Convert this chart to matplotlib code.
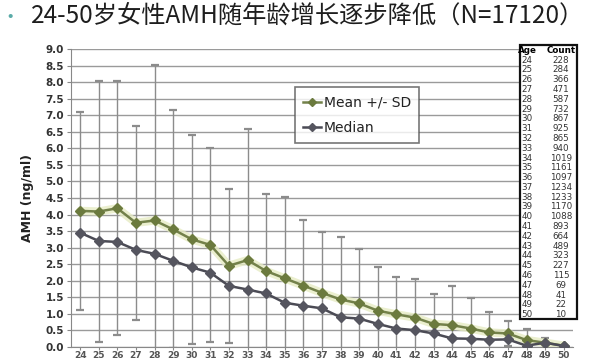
import matplotlib
matplotlib.use("Agg")
import matplotlib.pyplot as plt
from matplotlib.patches import Rectangle
import numpy as np

plt.rcParams['font.family'] = ['Noto Sans CJK SC', 'DejaVu Sans']

# values
ages = list(range(24, 51))
mean = [4.11, 4.09, 4.19, 3.75, 3.82, 3.55, 3.25, 3.08, 2.45, 2.62, 2.29, 2.07, 1.85,
        1.63, 1.43, 1.31, 1.09, 0.98, 0.88, 0.69, 0.65, 0.55, 0.43, 0.40, 0.20, 0.12, 0.03]
sd = [3.00, 3.95, 3.85, 2.94, 4.72, 3.60, 3.16, 2.94, 2.33, 3.96, 2.32, 2.47, 1.99,
      1.85, 1.88, 1.65, 1.33, 1.14, 1.16, 0.90, 1.19, 0.92, 0.63, 0.38, 0.33, 0.15, 0.03]
median = [3.45, 3.20, 3.17, 2.93, 2.81, 2.60, 2.40, 2.24, 1.84, 1.73, 1.61, 1.33, 1.24,
          1.16, 0.89, 0.85, 0.69, 0.55, 0.50, 0.40, 0.25, 0.24, 0.21, 0.22, 0.03, 0.12, 0.02]
counts = [228, 284, 366, 471, 587, 732, 867, 925, 865, 940, 1019, 1161, 1097, 1234,
          1233, 1170, 1088, 893, 664, 489, 323, 227, 115, 69, 41, 22, 10]

title = "24-50岁女性AMH随年龄增长逐步降低（N=17120）"

fig = plt.figure(figsize=(6, 3.6), dpi=100)
ax = fig.add_axes([0.118, 0.037, 0.837, 0.826])

# horizontal grid
ax.set_yticks(np.arange(0, 9.01, 0.5))
ax.yaxis.grid(True, color='#9a9a9a', lw=1.0)
ax.set_axisbelow(True)

# error bars (mean +/- sd)
ax.errorbar(ages, mean, yerr=sd, fmt='none', ecolor='#8c8c8c', elinewidth=1.0,
            capsize=3, capthick=1.6, zorder=2)

# faint glow under the mean line
ax.plot(ages, mean, color='#e6ecc4', lw=6, alpha=0.8, zorder=2.5,
        solid_capstyle='round')
ax.plot(ages, mean, color='#73814a', lw=1.8, marker='D', ms=5.5,
        mfc='#6b7a3e', mec='#6b7a3e', label='Mean +/- SD', zorder=3)
ax.plot(ages, median, color='#4b4b55', lw=1.8, marker='D', ms=5.5,
        mfc='#55555f', mec='#55555f', label='Median', zorder=3)

ax.set_xlim(23.5, 50.5)
ax.set_ylim(0, 9)
ax.set_xticks(ages)
ax.set_xticklabels([str(a) for a in ages], fontsize=6.5, fontweight='bold',
                   color='#555555', family='DejaVu Sans')
ax.set_yticklabels(['%.1f' % v for v in np.arange(0, 9.01, 0.5)], fontsize=7.5,
                   fontweight='bold', color='#333333', family='DejaVu Sans')
ax.tick_params(axis='y', length=3, color='#888888', pad=2)
ax.tick_params(axis='x', length=2, color='#888888', pad=1)

for s in ['top', 'right']:
    ax.spines[s].set_visible(False)
ax.spines['left'].set_color('#888888')
ax.spines['bottom'].set_color('#888888')

ax.set_ylabel('AMH (ng/ml)', fontsize=9, fontweight='bold', color='#222222',
              family='DejaVu Sans', labelpad=8)

leg = ax.legend(loc='upper left', bbox_to_anchor=(0.432, 0.895), frameon=True,
                fancybox=False, edgecolor='#555555',
                handlelength=1.3, handletextpad=0.2, labelspacing=0.8,
                borderpad=0.6, markerscale=0.8,
                prop={'family': 'DejaVu Sans', 'size': 10})
leg.get_frame().set_linewidth(1.2)
for t in leg.get_texts():
    t.set_color('#222222')

# age / count table on the right
x0, x1 = 520 / 600, 577 / 600
ytop, ybot = 1 - 45 / 360, 1 - 319 / 360
fig.patches.append(Rectangle((x0, ybot), x1 - x0, ytop - ybot, transform=fig.transFigure,
                             facecolor='white', edgecolor='#111111', lw=1.6, zorder=5))
rowh = (ytop - ybot) / 28
xa, xc = 527 / 600, 561 / 600
fig.text(xa, ytop - rowh * 0.55, 'Age', ha='center', va='center', fontsize=6.3,
         fontweight='bold', family='DejaVu Sans', zorder=6)
fig.text(xc, ytop - rowh * 0.55, 'Count', ha='center', va='center', fontsize=6.3,
         fontweight='bold', family='DejaVu Sans', zorder=6)
for i, (a, c) in enumerate(zip(ages, counts)):
    yy = ytop - rowh * (i + 1.55)
    fig.text(xa, yy, str(a), ha='center', va='center', fontsize=6.3,
             color='#333333', family='DejaVu Sans', zorder=6)
    fig.text(xc, yy, str(c), ha='center', va='center', fontsize=6.3,
             color='#333333', family='DejaVu Sans', zorder=6)

# title with bullet
fig.text(0.016, 1 - 17 / 360, '•', ha='center', va='center', fontsize=14,
         color='#5aaba8')
fig.text(0.052, 1 - 16 / 360, title, ha='left', va='center', fontsize=17.5,
         color='#1e1e1e')

fig.savefig('out.png', dpi=100)
